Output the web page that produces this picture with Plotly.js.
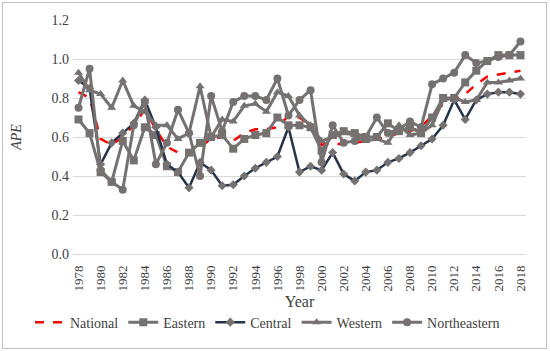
<!DOCTYPE html>
<html>
<head>
<meta charset="utf-8">
<script src="https://cdn.plot.ly/plotly-3.0.1.min.js"></script>
<style>
  html, body { margin: 0; padding: 0; background: #fff; }
  #wrap { position: relative; width: 550px; height: 351px; }
  #chart { width: 550px; height: 351px; }
  #frame { position: absolute; left: 2px; top: 2px; width: 543px; height: 345px; border: 1px solid #bfbfbf; pointer-events: none; }
</style>
</head>
<body>
<div id="wrap"><div id="chart"></div><div id="frame"></div></div>
<script>
const years = [];
for (let y = 1978; y <= 2018; y++) years.push(y);

const national = [0.83,0.80,0.59,0.56,0.60,0.66,0.74,0.64,0.55,0.52,0.51,0.55,0.59,0.60,0.58,0.62,0.64,0.64,0.65,0.71,0.70,0.66,0.56,0.57,0.56,0.57,0.58,0.59,0.60,0.62,0.63,0.65,0.71,0.77,0.79,0.82,0.87,0.91,0.92,0.93,0.94];
const eastern  = [0.69,0.62,0.42,0.37,0.58,0.48,0.65,0.61,0.45,0.42,0.52,0.57,0.60,0.61,0.54,0.59,0.61,0.62,0.70,0.66,0.66,0.65,0.53,0.61,0.63,0.62,0.60,0.60,0.67,0.63,0.65,0.62,0.70,0.80,0.80,0.88,0.94,0.99,1.02,1.02,1.02];
const central  = [0.89,0.85,0.46,0.57,0.62,0.67,0.79,0.65,0.46,0.42,0.34,0.47,0.43,0.35,0.355,0.40,0.44,0.47,0.50,0.65,0.42,0.45,0.43,0.52,0.41,0.375,0.42,0.43,0.47,0.49,0.52,0.555,0.59,0.66,0.79,0.69,0.79,0.82,0.83,0.83,0.82];
const western  = [0.93,0.84,0.82,0.75,0.89,0.76,0.73,0.66,0.66,0.59,0.62,0.86,0.60,0.69,0.68,0.76,0.77,0.73,0.83,0.81,0.71,0.66,0.58,0.60,0.62,0.61,0.58,0.59,0.57,0.66,0.61,0.62,0.66,0.79,0.80,0.78,0.79,0.88,0.88,0.89,0.90];
const northeastern = [0.75,0.95,0.43,0.37,0.33,0.66,0.78,0.46,0.57,0.74,0.62,0.40,0.81,0.63,0.78,0.81,0.81,0.79,0.90,0.71,0.79,0.84,0.47,0.66,0.57,0.58,0.60,0.70,0.62,0.64,0.68,0.65,0.87,0.90,0.93,1.02,0.98,0.99,1.01,1.02,1.09];

const tickYears = years.filter(y => (y - 1978) % 2 === 0);

const gray = '#767171';
const navy = '#26344a';
const font = '"Liberation Serif", serif';
const txt = '#404040';

const traces = [
  {name: 'National', x: years, y: national, mode: 'lines',
   line: {color: '#ff0000', width: 2.5, dash: 'dash'}},
  {name: 'Eastern', x: years, y: eastern, mode: 'lines+markers',
   line: {color: gray, width: 3}, marker: {symbol: 'square', size: 8, color: gray}},
  {name: 'Central', x: years, y: central, mode: 'lines+markers',
   line: {color: navy, width: 2.5}, marker: {symbol: 'diamond', size: 7, color: gray}},
  {name: 'Western', x: years, y: western, mode: 'lines+markers',
   line: {color: gray, width: 3}, marker: {symbol: 'triangle-up', size: 8, color: gray}},
  {name: 'Northeastern', x: years, y: northeastern, mode: 'lines+markers',
   line: {color: gray, width: 3}, marker: {symbol: 'circle', size: 8, color: gray}}
];

const layout = {
  width: 550, height: 351,
  margin: {l: 73, r: 24, t: 20, b: 97},
  paper_bgcolor: '#fff', plot_bgcolor: '#fff',
  font: {family: font, size: 12, color: txt},
  showlegend: true,
  legend: {orientation: 'h', x: -0.095, xanchor: 'left', y: -0.293, yanchor: 'middle',
           font: {family: font, size: 14, color: txt}, itemwidth: 30, tracegroupgap: 0},
  xaxis: {
    range: [1977.5, 2018.5], tickvals: tickYears, ticktext: tickYears.map(String),
    tickangle: -90, showgrid: false, zeroline: false, showline: false, ticks: '',
    ticklabelstandoff: 8,
    tickfont: {family: font, size: 13, color: txt},
    title: {text: 'Year', font: {family: font, size: 16, color: txt}, standoff: 5}
  },
  yaxis: {
    range: [0, 1.2], dtick: 0.2, tickformat: '.1f', showgrid: true, gridcolor: '#d9d9d9', gridwidth: 1,
    zeroline: true, zerolinecolor: '#d9d9d9', zerolinewidth: 1, showline: false, ticks: '',
    ticklabelstandoff: 3,
    tickfont: {family: font, size: 14, color: txt},
    title: {text: '<i>APE</i>', font: {family: font, size: 14, color: txt}, standoff: 26}
  }
};

Plotly.newPlot('chart', traces, layout, {displayModeBar: false, staticPlot: true});
</script>
</body>
</html>
